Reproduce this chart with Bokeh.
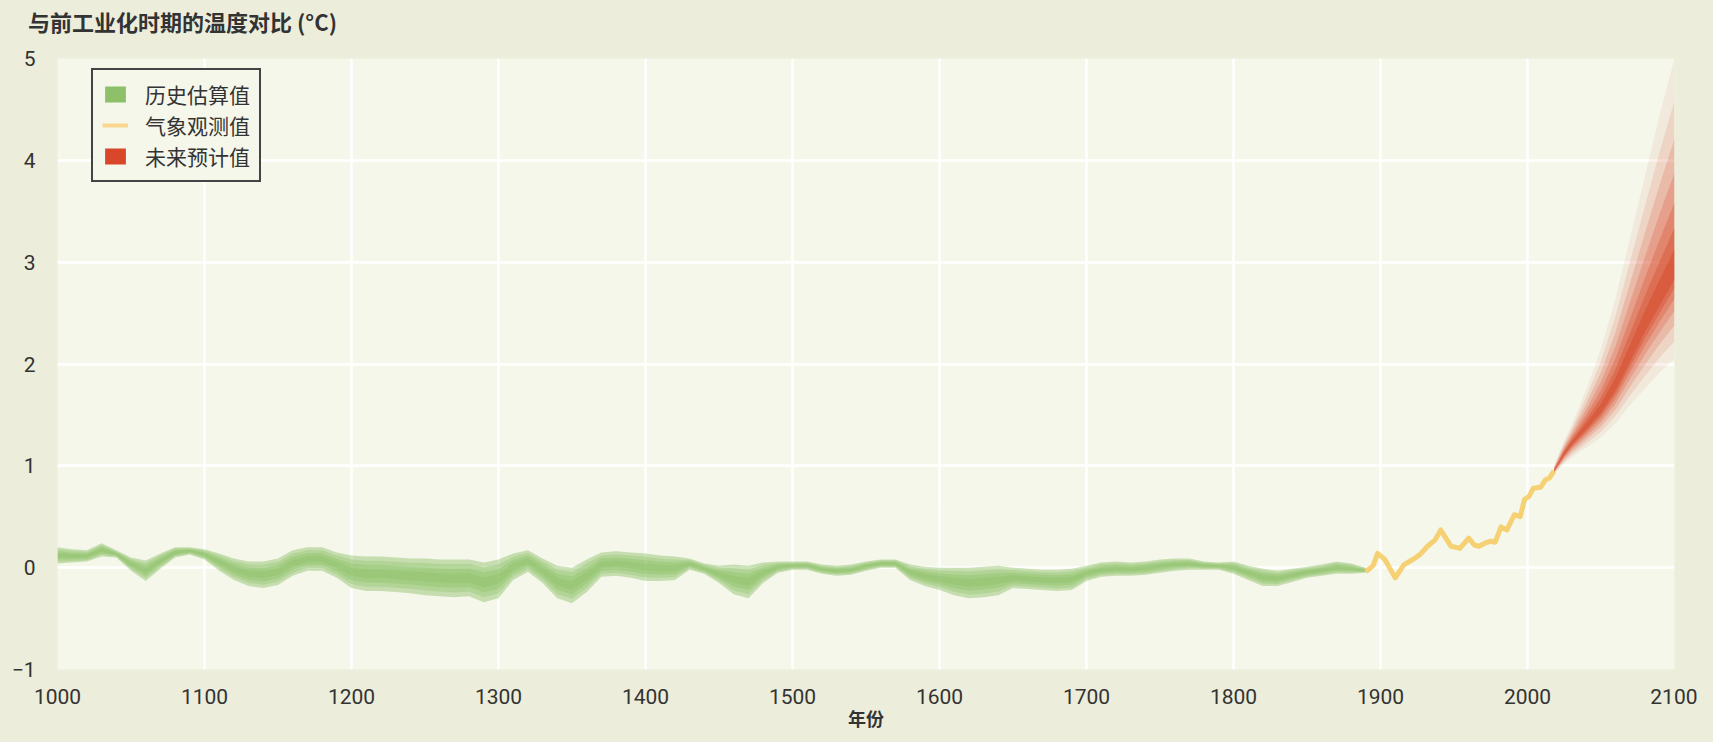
from bokeh.plotting import figure
from bokeh.models import Legend, LegendItem, FixedTicker, Range1d, Div
from bokeh.layouts import column
from bokeh.embed import file_html
from bokeh.resources import INLINE

# ---------------- data ----------------
hist_years = list(range(1000, 1900, 10))
hist_lo = [0.04, 0.05, 0.06, 0.11, 0.10, -0.03, -0.13, -0.01, 0.10, 0.13,
           0.08, -0.03, -0.12, -0.18, -0.20, -0.17, -0.08, -0.03, -0.03, -0.10,
           -0.20, -0.23, -0.23, -0.24, -0.25, -0.27, -0.28, -0.29, -0.28, -0.34,
           -0.30, -0.12, -0.04, -0.15, -0.30, -0.35, -0.24, -0.09, -0.08, -0.10,
           -0.13, -0.13, -0.12, -0.02, -0.06, -0.15, -0.26, -0.30, -0.15, -0.05,
           -0.02, -0.02, -0.06, -0.08, -0.07, -0.03, 0.00, 0.00, -0.12, -0.18,
           -0.22, -0.27, -0.30, -0.29, -0.27, -0.20, -0.21, -0.22, -0.23, -0.22,
           -0.13, -0.09, -0.08, -0.08, -0.07, -0.05, -0.03, -0.02, -0.02, -0.02,
           -0.06, -0.12, -0.18, -0.18, -0.14, -0.10, -0.08, -0.06, -0.06, -0.05]
hist_hi = [0.20, 0.18, 0.17, 0.24, 0.17, 0.10, 0.07, 0.14, 0.20, 0.20,
           0.18, 0.14, 0.09, 0.06, 0.06, 0.09, 0.17, 0.20, 0.20, 0.15,
           0.12, 0.11, 0.11, 0.10, 0.09, 0.09, 0.08, 0.08, 0.08, 0.05,
           0.08, 0.14, 0.17, 0.09, 0.02, 0.00, 0.08, 0.15, 0.16, 0.15,
           0.14, 0.12, 0.11, 0.09, 0.04, 0.02, 0.03, 0.02, 0.05, 0.06,
           0.06, 0.06, 0.03, 0.02, 0.03, 0.06, 0.08, 0.08, 0.03, 0.01,
           0.00, 0.00, 0.00, 0.01, 0.02, 0.00, -0.01, -0.02, -0.02, -0.01,
           0.02, 0.05, 0.06, 0.05, 0.06, 0.08, 0.09, 0.09, 0.06, 0.05,
           0.06, 0.02, -0.01, -0.03, -0.01, 0.01, 0.03, 0.06, 0.04, 0.00]

obs_years = [1890, 1895, 1898, 1903, 1910, 1916, 1922, 1927, 1932, 1937,
             1941, 1944, 1948, 1954, 1960, 1964, 1967, 1971, 1975, 1978,
             1982, 1986, 1991, 1995, 1998, 2001, 2004, 2009, 2012, 2015, 2018]
obs_vals = [-0.04, 0.02, 0.14, 0.08, -0.10, 0.03, 0.08, 0.13, 0.21, 0.27,
            0.37, 0.30, 0.21, 0.19, 0.29, 0.22, 0.21, 0.24, 0.26, 0.25,
            0.40, 0.37, 0.52, 0.50, 0.67, 0.70, 0.78, 0.79, 0.86, 0.88, 0.95]

proj_years = [2018, 2025, 2030, 2040, 2050, 2060, 2070, 2080, 2090, 2100]
proj_mid = [0.95, 1.12, 1.22, 1.38, 1.55, 1.78, 2.08, 2.38, 2.65, 2.92]
proj_hi = [1.00, 1.25, 1.40, 1.75, 2.15, 2.65, 3.25, 3.85, 4.45, 5.00]
proj_lo = [0.92, 1.02, 1.08, 1.18, 1.28, 1.42, 1.60, 1.76, 1.92, 2.05]

x_ticks = list(range(1000, 2101, 100))
y_ticks = [-1, 0, 1, 2, 3, 4, 5]

title_text = "与前工业化时期的温度对比 (°C)"
x_title = "年份"
legend_labels = ["历史估算值", "气象观测值", "未来预计值"]

# ---------------- styling ----------------
BG_OUT = "#ECEDDB"
BG_IN = "#F4F7EA"
GREEN = "#86BD5E"
YELLOW = "#F6CA5F"
RED = "#D53E1E"
TICK_FONT = "Roboto"
CJK = "Noto Sans CJK SC"

p = figure(frame_width=1617, frame_height=611,
           x_range=Range1d(1000, 2100), y_range=Range1d(-1, 5),
           output_backend="svg", toolbar_location=None, tools="",
           min_border_left=57, min_border_right=23,
           min_border_top=18, min_border_bottom=57, margin=0)
p.background_fill_color = BG_IN
p.border_fill_color = BG_OUT
p.outline_line_color = None

p.xgrid.ticker = FixedTicker(ticks=x_ticks)
p.ygrid.ticker = FixedTicker(ticks=y_ticks)
p.grid.grid_line_color = "white"
p.grid.grid_line_width = 2.5

p.xaxis.ticker = FixedTicker(ticks=x_ticks)
p.yaxis.ticker = FixedTicker(ticks=y_ticks)
p.yaxis.major_label_overrides = {-1: "\u22121"}
for ax in (p.xaxis, p.yaxis):
    ax.axis_line_color = None
    ax.major_tick_line_color = None
    ax.minor_tick_line_color = None
    ax.major_label_text_font = TICK_FONT
    ax.major_label_text_font_size = "21px"
    ax.major_label_text_color = "#333333"
p.xaxis.major_label_standoff = 13
p.yaxis.major_label_standoff = 16
p.xaxis.axis_label = x_title
p.xaxis.axis_label_text_font = CJK
p.xaxis.axis_label_text_font_style = "bold"
p.xaxis.axis_label_text_font_size = "18px"
p.xaxis.axis_label_text_color = "#333333"
p.xaxis.axis_label_standoff = -2

# historical band (layered for soft edges)
hist_mid = [(a + b) / 2 for a, b in zip(hist_lo, hist_hi)]
for f, a in [(1.0, 0.42), (0.75, 0.3), (0.5, 0.3), (0.25, 0.3)]:
    lo = [m - f * (m - l) for m, l in zip(hist_mid, hist_lo)]
    hi = [m + f * (h - m) for m, h in zip(hist_mid, hist_hi)]
    p.varea(x=hist_years, y1=lo, y2=hi, fill_color=GREEN, fill_alpha=a)

# projection fan
for f, a in [(1.0, 0.07), (0.8, 0.12), (0.62, 0.17), (0.46, 0.22),
             (0.32, 0.27), (0.2, 0.32), (0.1, 0.38)]:
    lo = [m - f * (m - l) for m, l in zip(proj_mid, proj_lo)]
    hi = [m + f * (h - m) for m, h in zip(proj_mid, proj_hi)]
    p.varea(x=proj_years, y1=lo, y2=hi, fill_color=RED, fill_alpha=a)

# observations
p.line(obs_years, obs_vals, line_color=YELLOW, line_width=5, line_alpha=0.85,
       line_join="round")

# legend dummies (placed outside the visible range)
g_r = p.quad(left=[0], right=[1], top=[-10], bottom=[-11],
             fill_color="#8DC068", line_color=None)
y_r = p.line(x=[0, 1], y=[-10, -10], line_color="#FAD68E", line_width=4)
r_r = p.quad(left=[0], right=[1], top=[-10], bottom=[-11],
             fill_color="#D9472B", line_color=None)
legend = Legend(items=[LegendItem(label=legend_labels[0], renderers=[g_r]),
                       LegendItem(label=legend_labels[1], renderers=[y_r]),
                       LegendItem(label=legend_labels[2], renderers=[r_r])],
                location=(34, 487))
legend.border_line_color = "#444444"
legend.border_line_width = 2
legend.border_line_alpha = 1
legend.background_fill_color = BG_IN
legend.background_fill_alpha = 1
legend.label_text_font = "Roboto, Noto Sans CJK SC"
legend.label_text_font_size = "21px"
legend.label_text_color = "#333333"
legend.glyph_width = 26
legend.glyph_height = 20
legend.label_height = 20
legend.spacing = 1
legend.padding = 9
legend.margin = 0
legend.label_standoff = 17
p.add_layout(legend, "center")

# title above the chart
title_div = Div(
    text=('<div style="position:absolute;left:28px;top:7px;line-height:28px;'
          'white-space:nowrap;font-family:\'Noto Sans CJK SC\';font-weight:bold;'
          'font-size:22px;color:#333333;">' + title_text + '</div>'),
    width=1697, height=40, margin=0,
    styles={"background-color": BG_OUT})

layout = column(title_div, p, spacing=0, margin=0)

html = file_html(layout, INLINE)
html = html.replace("<head>", "<head><style>html,body{background:#ECEDDB;}</style>", 1)
open("out.html", "w").write(html)
